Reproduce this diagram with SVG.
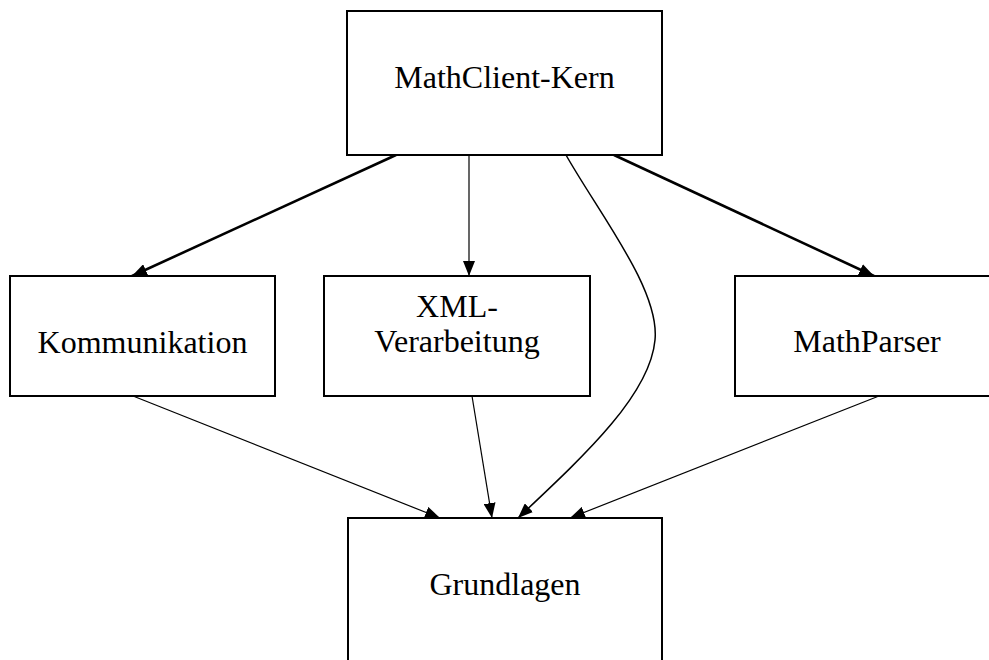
<svg xmlns="http://www.w3.org/2000/svg" width="989" height="660" viewBox="0 0 989 660">
  <style>
    .box { fill: #ffffff; stroke: #000000; stroke-width: 2; }
    .label { font-family: "Liberation Serif", "Times New Roman", serif; font-size: 32px; fill: #000000; text-anchor: middle; }
    .edge { fill: none; stroke: #000000; }
    .thick { stroke-width: 2.6; }
    .thin { stroke-width: 1.2; }
  </style>
  <defs>
    <marker id="arrow" markerUnits="userSpaceOnUse" markerWidth="15" markerHeight="12" refX="15" refY="6" orient="auto">
      <path d="M0,0 L15,6 L0,12 Z" fill="#000000"/>
    </marker>
  </defs>
  <rect x="0" y="0" width="989" height="660" fill="#ffffff"/>

  <g id="connectors">
    <line class="edge thick" x1="396" y1="155" x2="132" y2="276" marker-end="url(#arrow)"/>
    <line class="edge thin" x1="469" y1="155" x2="469" y2="276" marker-end="url(#arrow)"/>
    <line class="edge thick" x1="614" y1="155" x2="874" y2="276" marker-end="url(#arrow)"/>
    <path class="edge" stroke-width="1.5" d="M566,155 C600,215 660,290 655,340 C650,395 585,455 518,518" marker-end="url(#arrow)"/>
    <line class="edge thin" x1="133" y1="396" x2="440" y2="518" marker-end="url(#arrow)"/>
    <line class="edge thin" x1="472" y1="396" x2="492" y2="518" marker-end="url(#arrow)"/>
    <line class="edge thin" x1="879" y1="396" x2="570" y2="518" marker-end="url(#arrow)"/>
  </g>

  <g id="node-kern">
    <rect class="box" x="347" y="11" width="315" height="144"/>
    <text class="label" x="504.5" y="88">MathClient-Kern</text>
  </g>
  <g id="node-kommunikation">
    <rect class="box" x="10" y="276" width="265" height="120"/>
    <text class="label" x="142.5" y="353">Kommunikation</text>
  </g>
  <g id="node-xml">
    <rect class="box" x="324" y="276" width="266" height="120"/>
    <text class="label" x="457" y="317">XML-</text>
    <text class="label" x="457" y="352">Verarbeitung</text>
  </g>
  <g id="node-mathparser">
    <rect class="box" x="735" y="276" width="264" height="120"/>
    <text class="label" x="867" y="352">MathParser</text>
  </g>
  <g id="node-grundlagen">
    <rect class="box" x="348" y="518" width="314" height="160"/>
    <text class="label" x="505" y="595">Grundlagen</text>
  </g>
</svg>
